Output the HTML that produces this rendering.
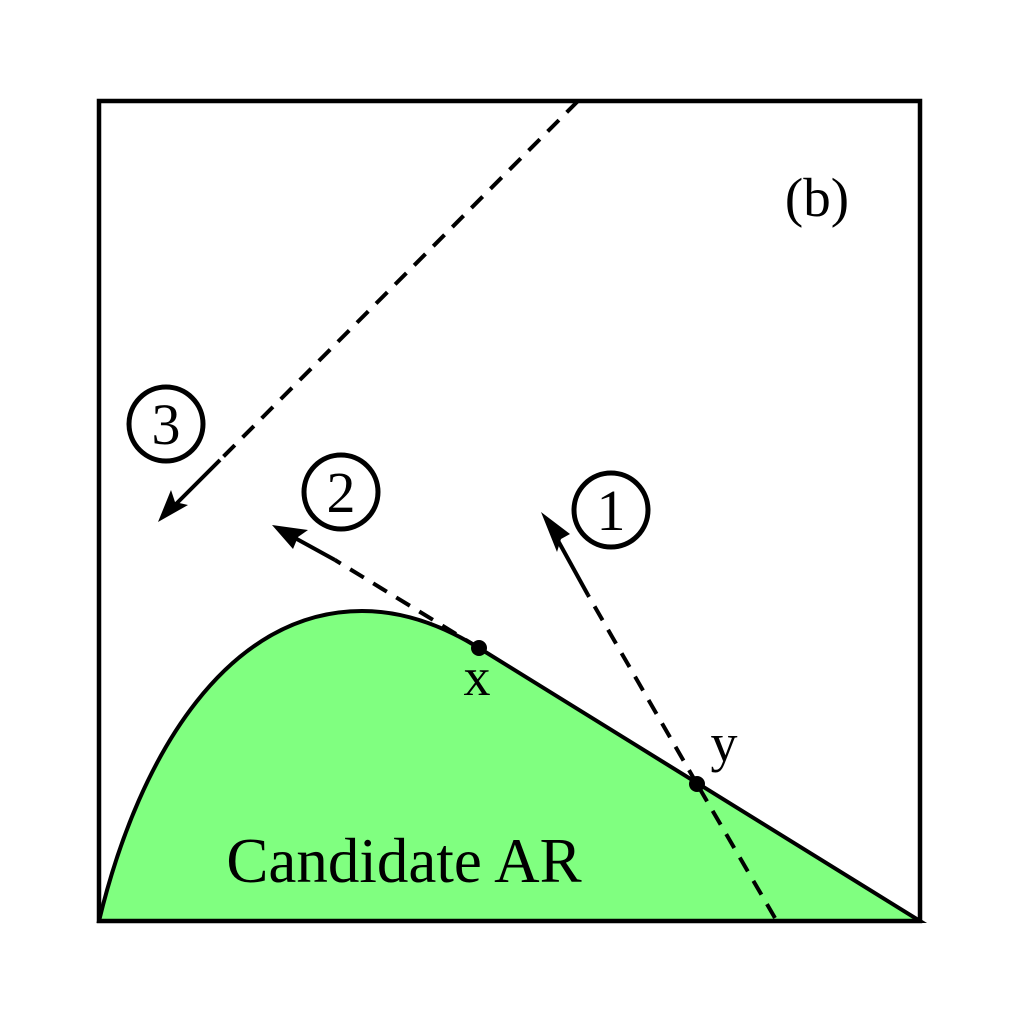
<!DOCTYPE html>
<html><head><style>body{margin:0;background:#fff}svg{display:block}</style></head><body>
<svg width="1024" height="1024" viewBox="0 0 1024 1024" xmlns="http://www.w3.org/2000/svg">
<path d="M99,921 C140,750 230,611 362,611 C410,611 450,630 479,648 L920,921 Z" fill="#80ff80" stroke="#000" stroke-width="4"/>
<g stroke="#000" stroke-width="4" fill="none">
<line x1="775" y1="918" x2="697" y2="784" stroke-dasharray="16,11"/>
<line x1="697" y1="784" x2="588" y2="595" stroke-dasharray="16,11"/>
<line x1="588" y1="595" x2="556" y2="537"/>
<line x1="479" y1="648" x2="335" y2="560" stroke-dasharray="16,11"/>
<line x1="335" y1="560" x2="295" y2="538"/>
<line x1="578" y1="101" x2="220" y2="460" stroke-dasharray="16,11"/>
<line x1="220" y1="460" x2="175" y2="505"/>
</g>
<path d="M541,512 L570,534 L561,539 L557,552 Z" fill="#000"/>
<path d="M272,525 L308,530 L298,537 L293,549 Z" fill="#000"/>
<path d="M158,522 L171,490 L175,502 L188,505 Z" fill="#000"/>
<rect x="99" y="101" width="821" height="820" fill="none" stroke="#000" stroke-width="4.5"/>
<circle cx="479" cy="648" r="8" fill="#000"/>
<circle cx="697" cy="784" r="8" fill="#000"/>
<g fill="none" stroke="#000" stroke-width="5">
<circle cx="166" cy="424" r="37"/><circle cx="341" cy="492" r="37"/><circle cx="611" cy="510" r="37"/>
</g>
<g font-family="Liberation Serif, serif" fill="#000" text-anchor="middle">
<text x="166" y="444" font-size="58">3</text>
<text x="341" y="512" font-size="58">2</text>
<text x="611" y="530" font-size="58">1</text>
<text x="477" y="695" font-size="54">x</text>
<text x="724" y="761" font-size="54">y</text>
<text x="817" y="216" font-size="55">(b)</text>
<text x="404" y="882" font-size="63">Candidate AR</text>
</g>
</svg>
</body></html>
